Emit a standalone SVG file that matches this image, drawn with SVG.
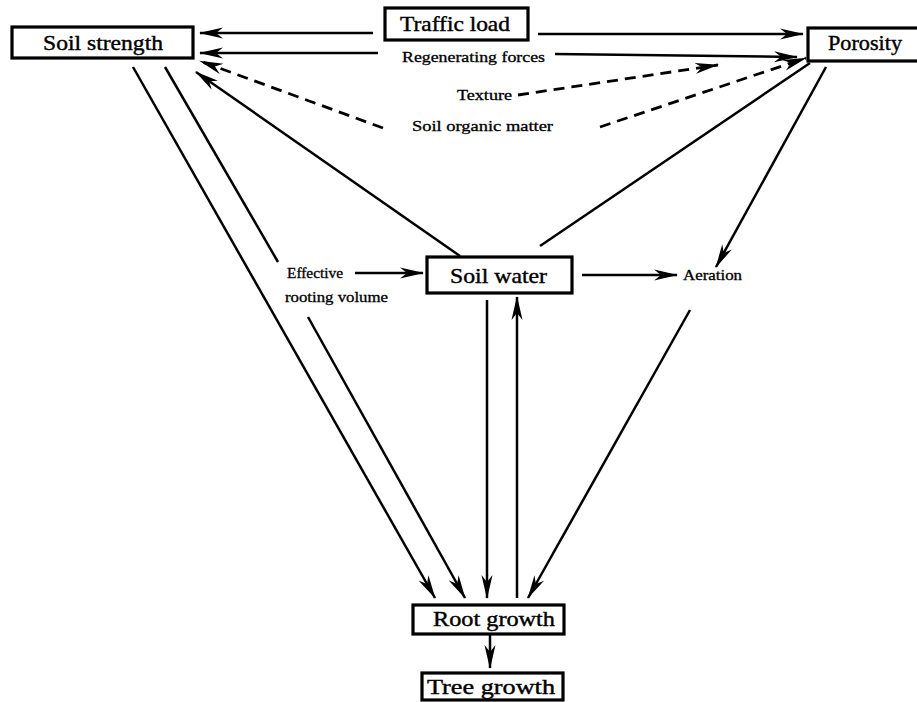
<svg xmlns="http://www.w3.org/2000/svg" width="917" height="702" viewBox="0 0 917 702">
<style>
.box{fill:#fff;stroke:#000;stroke-width:3.2}
.big{font-family:"Liberation Serif","DejaVu Serif",serif;font-size:21px;fill:#000;stroke:#000;stroke-width:0.4}
.small{font-family:"Liberation Serif","DejaVu Serif",serif;font-size:14px;fill:#000;stroke:#000;stroke-width:0.3}
.ln{fill:none;stroke:#000;stroke-width:2.5}
.ds{fill:none;stroke:#000;stroke-width:2.8;stroke-dasharray:11 7}
</style>
<defs>
<marker id="ah" markerUnits="userSpaceOnUse" markerWidth="24" markerHeight="12" refX="23" refY="6" orient="auto">
<path d="M0,0.5 L24,6 L0,11.5 L7,6 Z" fill="#000"/>
</marker>
</defs>
<rect width="917" height="702" fill="#fff"/>
<g id="connectors">
<line class="ln" x1="373" y1="33" x2="200" y2="33" marker-end="url(#ah)"/>
<line class="ln" x1="538" y1="34" x2="803" y2="34" marker-end="url(#ah)"/>
<line class="ln" x1="378" y1="53" x2="200" y2="53" marker-end="url(#ah)"/>
<line class="ln" x1="555" y1="54" x2="797" y2="57" marker-end="url(#ah)"/>
<line class="ds" x1="518" y1="95" x2="718" y2="65" marker-end="url(#ah)"/>
<line class="ds" x1="383" y1="128" x2="200" y2="61" marker-end="url(#ah)"/>
<line class="ds" x1="600" y1="127" x2="806" y2="58" marker-end="url(#ah)"/>
<line class="ln" x1="460" y1="256" x2="196" y2="72" marker-end="url(#ah)"/>
<line class="ln" x1="540" y1="246" x2="810" y2="63"/>
<line class="ln" x1="826" y1="67" x2="716" y2="267" marker-end="url(#ah)"/>
<line class="ln" x1="582" y1="275" x2="677" y2="275" marker-end="url(#ah)"/>
<line class="ln" x1="355" y1="273" x2="423" y2="273" marker-end="url(#ah)"/>
<line class="ln" x1="133" y1="67" x2="435" y2="598" marker-end="url(#ah)"/>
<line class="ln" x1="165" y1="67" x2="278" y2="262"/>
<line class="ln" x1="308" y1="317" x2="465" y2="598" marker-end="url(#ah)"/>
<line class="ln" x1="487" y1="300" x2="487" y2="598" marker-end="url(#ah)"/>
<line class="ln" x1="517" y1="598" x2="517" y2="297" marker-end="url(#ah)"/>
<line class="ln" x1="690" y1="310" x2="528" y2="598" marker-end="url(#ah)"/>
<line class="ln" x1="490" y1="635" x2="490" y2="668" marker-end="url(#ah)"/>
</g>
<g id="soil-strength">
<rect class="box" x="12" y="27" width="181" height="31"/>
<text class="big" x="43" y="50" textLength="120" lengthAdjust="spacingAndGlyphs">Soil strength</text>
</g>
<g id="traffic-load">
<rect class="box" x="385" y="8" width="143" height="32"/>
<text class="big" x="400" y="31" textLength="110" lengthAdjust="spacingAndGlyphs">Traffic load</text>
</g>
<g id="porosity">
<rect class="box" x="808" y="28" width="120" height="33"/>
<text class="big" x="828" y="50" textLength="74" lengthAdjust="spacingAndGlyphs">Porosity</text>
</g>
<g id="regenerating-forces">
<text class="small" x="402" y="62" textLength="143" lengthAdjust="spacingAndGlyphs">Regenerating forces</text>
</g>
<g id="texture">
<text class="small" x="457" y="100" textLength="55" lengthAdjust="spacingAndGlyphs">Texture</text>
</g>
<g id="soil-organic-matter">
<text class="small" x="412" y="131" textLength="141" lengthAdjust="spacingAndGlyphs">Soil organic matter</text>
</g>
<g id="soil-water">
<rect class="box" x="427" y="257" width="145" height="36"/>
<text class="big" x="450" y="283" textLength="97" lengthAdjust="spacingAndGlyphs">Soil water</text>
</g>
<g id="effective-rooting-volume">
<text class="small" x="287" y="278" textLength="56" lengthAdjust="spacingAndGlyphs">Effective</text>
<text class="small" x="285" y="302" textLength="103" lengthAdjust="spacingAndGlyphs">rooting volume</text>
</g>
<g id="aeration">
<text class="small" x="683" y="280" textLength="59" lengthAdjust="spacingAndGlyphs">Aeration</text>
</g>
<g id="root-growth">
<rect class="box" x="413" y="605" width="151" height="29"/>
<text class="big" x="433" y="626" textLength="122" lengthAdjust="spacingAndGlyphs">Root growth</text>
</g>
<g id="tree-growth">
<rect class="box" x="422" y="673" width="141" height="27"/>
<text class="big" x="427" y="694" textLength="128" lengthAdjust="spacingAndGlyphs">Tree growth</text>
</g>
</svg>
